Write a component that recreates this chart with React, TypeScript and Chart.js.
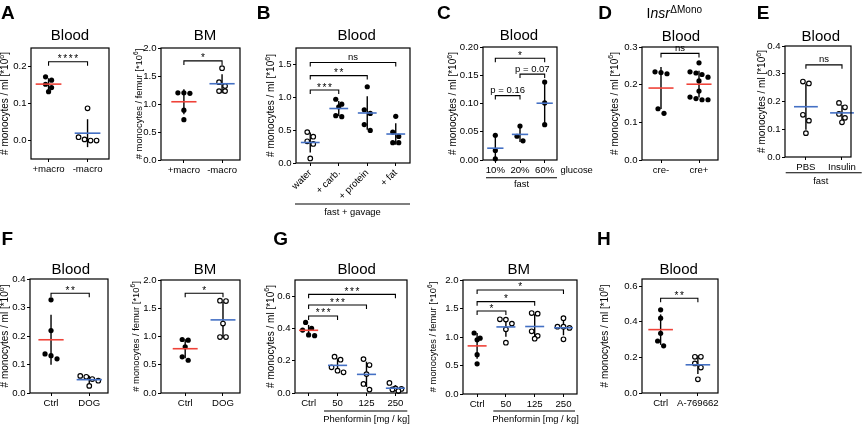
import React, { useEffect, useRef } from "react";
import { Chart, registerables } from "chart.js";

Chart.register(...registerables);

// ---------------- data ----------------
const aBloodCats = ["+macro", "-macro"];
const aBloodPlusMacro = [0.172, 0.163, 0.152, 0.143, 0.132];
const aBloodMinusMacro = [0.087, 0.009, 0.003, 0.0, 0.0];
const aBloodTicks = [0, 0.1, 0.2];

const aBmCats = ["+macro", "-macro"];
const aBmPlusMacro = [1.2, 1.2, 1.19, 0.89, 0.72];
const aBmMinusMacro = [1.64, 1.39, 1.32, 1.23, 1.23];
const bmTicks = [0, 0.5, 1.0, 1.5, 2.0];

const bCats = ["water", "+ carb.", "+ protein", "+ fat"];
const bWater = [0.47, 0.4, 0.33, 0.29, 0.07];
const bCarb = [0.97, 0.895, 0.855, 0.72, 0.705];
const bProtein = [1.16, 0.81, 0.755, 0.585, 0.495];
const bFat = [0.71, 0.47, 0.405, 0.31, 0.31];
const bTicks = [0, 0.5, 1.0, 1.5];

const cCats = ["10%", "20%", "60%"];
const c10 = [0.0437, 0.017, 0.002];
const c20 = [0.06, 0.042, 0.034];
const c60 = [0.138, 0.101, 0.0625];
const cTicks = [0, 0.05, 0.1, 0.15, 0.2];

const dCats = ["cre-", "cre+"];
const dCreNeg = [0.234, 0.232, 0.229, 0.136, 0.124];
const dCrePos = [0.258, 0.234, 0.231, 0.227, 0.22, 0.21, 0.183, 0.167, 0.163, 0.16, 0.16];
const dTicks = [0, 0.1, 0.2, 0.3];

const eCats = ["PBS", "Insulin"];
const ePbs = [0.272, 0.265, 0.152, 0.131, 0.086];
const eInsulin = [0.195, 0.179, 0.155, 0.141, 0.125];
const eTicks = [0, 0.1, 0.2, 0.3, 0.4];

const fCats = ["Ctrl", "DOG"];
const fBloodCtrl = [0.327, 0.219, 0.137, 0.131, 0.12];
const fBloodDog = [0.06, 0.057, 0.049, 0.043, 0.025];
const fBloodTicks = [0, 0.1, 0.2, 0.3, 0.4];
const fBmCtrl = [0.947, 0.935, 0.817, 0.64, 0.58];
const fBmDog = [1.633, 1.627, 1.23, 0.99, 0.99];

const gCats = ["Ctrl", "50", "125", "250"];
const gBloodCtrl = [0.437, 0.4, 0.39, 0.36, 0.355];
const gBlood50 = [0.225, 0.206, 0.159, 0.138, 0.128];
const gBlood125 = [0.21, 0.173, 0.117, 0.056, 0.021];
const gBlood250 = [0.062, 0.028, 0.025, 0.022, 0.012];
const gBloodTicks = [0, 0.2, 0.4, 0.6];
const gBmCtrl = [1.07, 0.98, 0.95, 0.69, 0.53];
const gBm50 = [1.31, 1.305, 1.235, 1.134, 0.9];
const gBm125 = [1.42, 1.41, 1.1, 1.02, 0.97];
const gBm250 = [1.33, 1.18, 1.18, 1.16, 0.96];

const hCats = ["Ctrl", "A-769662"];
const hCtrl = [0.467, 0.42, 0.335, 0.292, 0.265];
const hA769662 = [0.203, 0.203, 0.166, 0.143, 0.077];
const hTicks = [0, 0.2, 0.4, 0.6];

// significance annotations (group a, group b, bracket level, label)
const aBloodSig = [{ a: 0, b: 1, y: 0.213, text: "****" }];
const aBmSig = [{ a: 0, b: 1, y: 1.77, text: "*" }];
const bSig = [
  { a: 0, b: 1, y: 1.11, text: "***" },
  { a: 0, b: 2, y: 1.33, text: "**" },
  { a: 0, b: 3, y: 1.53, text: "ns" },
];
const cSig = [
  { a: 0, b: 1, y: 0.114, text: "p = 0.16" },
  { a: 1, b: 2, y: 0.152, text: "p = 0.07" },
  { a: 0, b: 2, y: 0.18, text: "*" },
];
const dSig = [{ a: 0, b: 1, y: 0.283, text: "ns" }];
const eSig = [{ a: 0, b: 1, y: 0.332, text: "ns" }];
const fBloodSig = [{ a: 0, b: 1, y: 0.35, text: "**" }];
const fBmSig = [{ a: 0, b: 1, y: 1.765, text: "*" }];
const gBloodSig = [
  { a: 0, b: 1, y: 0.477, text: "***" },
  { a: 0, b: 2, y: 0.545, text: "***" },
  { a: 0, b: 3, y: 0.611, text: "***" },
];
const gBmSig = [
  { a: 0, b: 1, y: 1.456, text: "*" },
  { a: 0, b: 2, y: 1.62, text: "*" },
  { a: 0, b: 3, y: 1.825, text: "*" },
];
const hSig = [{ a: 0, b: 1, y: 0.532, text: "**" }];

// ---------------- styling / layout ----------------
const FONT = "'Liberation Sans', Arial, Helvetica, sans-serif";
const RED = "#ef4238";
const BLUE = "#4470c4";
const W = 863;
const H = 425;
const Y_AXIS_W = 28;
const TICK_SIZE = 9.6;
const ML = "# monocytes / ml [*10";
const FEMUR = "# monocytes / femur [*10";

type Sig = { a: number; b: number; y: number; text: string };
type Panel = {
  L: number; T: number; R: number; B: number;
  yMin: number; yMax: number; yTicks: number[]; yDec: number;
  xMin: number; xMax: number; cats: string[]; rotate?: boolean;
  groups: number[][]; filled: boolean[]; meanColor: string[];
  title: string; titleX: number; titleY: number;
  yLabel: string; yLabelX: number; yLabelSize: number;
  sig: Sig[];
  letter?: { text: string; x: number; y: number };
  lines?: { x1: number; x2: number; y: number }[];
  texts?: { text: string; x: number; y: number; align: CanvasTextAlign }[];
  header?: boolean;
};

const PANELS: Panel[] = [
  {
    L: 31, T: 48, R: 109, B: 159, yMin: -0.05, yMax: 0.25, yTicks: aBloodTicks, yDec: 1,
    xMin: -0.45, xMax: 1.55, cats: aBloodCats, groups: [aBloodPlusMacro, aBloodMinusMacro],
    filled: [true, false], meanColor: [RED, BLUE], title: "Blood", titleX: 70, titleY: 40.3,
    yLabel: ML, yLabelX: 5.5, yLabelSize: 10, sig: aBloodSig, letter: { text: "A", x: 1, y: 18.5 },
  },
  {
    L: 161, T: 48, R: 240, B: 160, yMin: 0, yMax: 2, yTicks: bmTicks, yDec: 1,
    xMin: -0.6, xMax: 1.47, cats: aBmCats, groups: [aBmPlusMacro, aBmMinusMacro],
    filled: [true, false], meanColor: [RED, BLUE], title: "BM", titleX: 205, titleY: 40.3,
    yLabel: FEMUR, yLabelX: 139.7, yLabelSize: 9.4, sig: aBmSig,
  },
  {
    L: 296, T: 48, R: 410, B: 163, yMin: 0, yMax: 1.75, yTicks: bTicks, yDec: 1,
    xMin: -0.5, xMax: 3.5, cats: bCats, rotate: true, groups: [bWater, bCarb, bProtein, bFat],
    filled: [false, true, true, true], meanColor: [BLUE, BLUE, BLUE, BLUE],
    title: "Blood", titleX: 356.7, titleY: 40.3, yLabel: ML, yLabelX: 271.7, yLabelSize: 10,
    sig: bSig, letter: { text: "B", x: 256.7, y: 18.5 },
    lines: [{ x1: 295, x2: 410, y: 204 }],
    texts: [{ text: "fast + gavage", x: 352.5, y: 215, align: "center" }],
  },
  {
    L: 483, T: 47, R: 557, B: 160, yMin: 0, yMax: 0.2, yTicks: cTicks, yDec: 2,
    xMin: -0.5, xMax: 2.5, cats: cCats, groups: [c10, c20, c60],
    filled: [true, true, true], meanColor: [BLUE, BLUE, BLUE],
    title: "Blood", titleX: 519, titleY: 40.3, yLabel: ML, yLabelX: 453.3, yLabelSize: 10,
    sig: cSig, letter: { text: "C", x: 437, y: 18.5 },
    lines: [{ x1: 486, x2: 557, y: 177.7 }],
    texts: [
      { text: "glucose", x: 560.5, y: 173.3, align: "left" },
      { text: "fast", x: 521.5, y: 186.5, align: "center" },
    ],
  },
  {
    L: 642, T: 47, R: 718, B: 160, yMin: 0, yMax: 0.3, yTicks: dTicks, yDec: 1,
    xMin: -0.5, xMax: 1.5, cats: dCats, groups: [dCreNeg, dCrePos],
    filled: [true, true], meanColor: [RED, RED],
    title: "Blood", titleX: 681, titleY: 40.7, yLabel: ML, yLabelX: 615, yLabelSize: 10,
    sig: dSig, letter: { text: "D", x: 598.3, y: 18.5 }, header: true,
  },
  {
    L: 785, T: 46, R: 851, B: 157, yMin: 0, yMax: 0.4, yTicks: eTicks, yDec: 1,
    xMin: -0.58, xMax: 1.25, cats: eCats, groups: [ePbs, eInsulin],
    filled: [false, false], meanColor: [BLUE, BLUE],
    title: "Blood", titleX: 820.8, titleY: 40.7, yLabel: ML, yLabelX: 762.3, yLabelSize: 10,
    sig: eSig, letter: { text: "E", x: 756.7, y: 18.5 },
    lines: [{ x1: 785.7, x2: 861.7, y: 172.7 }],
    texts: [{ text: "fast", x: 820.7, y: 184, align: "center" }],
  },
  {
    L: 30, T: 279, R: 108, B: 393, yMin: 0, yMax: 0.4, yTicks: fBloodTicks, yDec: 1,
    xMin: -0.55, xMax: 1.49, cats: fCats, groups: [fBloodCtrl, fBloodDog],
    filled: [true, false], meanColor: [RED, BLUE],
    title: "Blood", titleX: 70.8, titleY: 273.5, yLabel: ML, yLabelX: 5.5, yLabelSize: 10,
    sig: fBloodSig, letter: { text: "F", x: 1.5, y: 245 },
  },
  {
    L: 161, T: 280, R: 240, B: 393, yMin: 0, yMax: 2, yTicks: bmTicks, yDec: 1,
    xMin: -0.64, xMax: 1.45, cats: fCats, groups: [fBmCtrl, fBmDog],
    filled: [true, false], meanColor: [RED, BLUE],
    title: "BM", titleX: 205, titleY: 273.5, yLabel: FEMUR, yLabelX: 136, yLabelSize: 9.4,
    sig: fBmSig,
  },
  {
    L: 295, T: 280, R: 407, B: 393, yMin: 0, yMax: 0.7, yTicks: gBloodTicks, yDec: 1,
    xMin: -0.47, xMax: 3.4, cats: gCats, groups: [gBloodCtrl, gBlood50, gBlood125, gBlood250],
    filled: [true, false, false, false], meanColor: [RED, BLUE, BLUE, BLUE],
    title: "Blood", titleX: 356.7, titleY: 273.5, yLabel: ML, yLabelX: 270.8, yLabelSize: 10,
    sig: gBloodSig, letter: { text: "G", x: 273.3, y: 245 },
    lines: [{ x1: 324, x2: 407.3, y: 411 }],
    texts: [{ text: "Phenformin [mg / kg]", x: 366.5, y: 421.5, align: "center" }],
  },
  {
    L: 463, T: 280, R: 577, B: 394, yMin: 0, yMax: 2, yTicks: bmTicks, yDec: 1,
    xMin: -0.49, xMax: 3.47, cats: gCats, groups: [gBmCtrl, gBm50, gBm125, gBm250],
    filled: [true, false, false, false], meanColor: [RED, BLUE, BLUE, BLUE],
    title: "BM", titleX: 518.8, titleY: 273.5, yLabel: FEMUR, yLabelX: 433.7, yLabelSize: 9.4,
    sig: gBmSig,
    lines: [{ x1: 493.3, x2: 575, y: 411 }],
    texts: [{ text: "Phenformin [mg / kg]", x: 535.5, y: 421.5, align: "center" }],
  },
  {
    L: 642, T: 279, R: 718, B: 393, yMin: 0, yMax: 0.64, yTicks: hTicks, yDec: 1,
    xMin: -0.5, xMax: 1.54, cats: hCats, groups: [hCtrl, hA769662],
    filled: [true, false], meanColor: [RED, BLUE],
    title: "Blood", titleX: 678.7, titleY: 273.5, yLabel: ML, yLabelX: 605.7, yLabelSize: 10,
    sig: hSig, letter: { text: "H", x: 597, y: 245 },
  },
];

// ---------------- helpers ----------------
function mean(a: number[]) {
  return a.reduce((s, v) => s + v, 0) / a.length;
}
function sd(a: number[]) {
  const m = mean(a);
  return Math.sqrt(a.reduce((s, v) => s + (v - m) * (v - m), 0) / (a.length - 1));
}

// simple row-based swarm: points close in y are spread horizontally, centred on the group
function swarm(values: number[], pxPerY: number, pxPerX: number): number[] {
  const d = 6;
  const idx = values.map((_, i) => i).sort((a, b) => values[b] - values[a]);
  const offs = new Array(values.length).fill(0);
  let row: number[] = [];
  const flush = () => {
    row.forEach((k, j) => {
      offs[k] = ((j - (row.length - 1) / 2) * d) / pxPerX;
    });
  };
  for (const k of idx) {
    if (row.length && (values[row[0]] - values[k]) * pxPerY < d) row.push(k);
    else {
      if (row.length) flush();
      row = [k];
    }
  }
  if (row.length) flush();
  return offs;
}

function buildChart(canvas: HTMLCanvasElement, p: Panel, n: number) {
  const plotW = p.R - p.L;
  const plotH = p.B - p.T;
  const pxX = plotW / (p.xMax - p.xMin);
  const pxY = plotH / (p.yMax - p.yMin);
  const xAxisH = p.rotate ? 48 : 25;
  const datasets: any[] = [];
  p.groups.forEach((vals, i) => {
    const offs = swarm(vals, pxY, pxX);
    const m = mean(vals);
    const s = sd(vals);
    datasets.push({
      type: "line",
      data: [{ x: i, y: m - s }, { x: i, y: m + s }],
      borderColor: "#000", borderWidth: 1.4, pointRadius: 0, order: 2, clip: false,
    });
    datasets.push({
      type: "scatter",
      data: vals.map((v, k) => ({ x: i + offs[k], y: v })),
      pointRadius: p.filled[i] ? 2.6 : 2.3,
      pointBackgroundColor: p.filled[i] ? "#000" : "#fff",
      pointBorderColor: "#000",
      pointBorderWidth: p.filled[i] ? 0 : 1.15,
      order: 1, clip: false,
    });
    datasets.push({
      type: "line",
      data: [{ x: i - 0.33, y: m }, { x: i + 0.33, y: m }],
      borderColor: p.meanColor[i], borderWidth: 1.6, pointRadius: 0, order: 0, clip: false,
    });
  });

  const deco = {
    id: "deco" + n,
    afterDraw(chart: any) {
      const ctx: CanvasRenderingContext2D = chart.ctx;
      const xs = chart.scales.x;
      const ys = chart.scales.y;
      const ca = chart.chartArea;
      ctx.save();
      ctx.strokeStyle = "#000";
      ctx.fillStyle = "#000";
      ctx.lineWidth = 1.2;
      ctx.strokeRect(ca.left, ca.top, ca.right - ca.left, ca.bottom - ca.top);

      // brackets
      ctx.lineWidth = 1.1;
      for (const s of p.sig) {
        const x1 = xs.getPixelForValue(s.a);
        const x2 = xs.getPixelForValue(s.b);
        const y = ys.getPixelForValue(s.y);
        ctx.beginPath();
        ctx.moveTo(x1, y + 4);
        ctx.lineTo(x1, y);
        ctx.lineTo(x2, y);
        ctx.lineTo(x2, y + 4);
        ctx.stroke();
        const cx = (x1 + x2) / 2;
        if (/^\*+$/.test(s.text)) {
          ctx.font = `10px ${FONT}`;
          ctx.textAlign = "center";
          ctx.textBaseline = "alphabetic";
          const k = s.text.length;
          for (let j = 0; j < k; j++) {
            ctx.fillText("*", cx + (j - (k - 1) / 2) * 5.5, y + 0.5);
          }
        } else {
          ctx.font = `9.5px ${FONT}`;
          ctx.textAlign = "center";
          ctx.textBaseline = "alphabetic";
          ctx.fillText(s.text, cx, y - 2.6);
        }
      }

      // title
      ctx.font = `15px ${FONT}`;
      ctx.textAlign = "center";
      ctx.textBaseline = "alphabetic";
      ctx.fillText(p.title, p.titleX, p.titleY);

      // y label with superscript
      ctx.save();
      ctx.translate(p.yLabelX, (ca.top + ca.bottom) / 2);
      ctx.rotate(-Math.PI / 2);
      const fs = p.yLabelSize;
      const big = `${fs}px ${FONT}`;
      const small = `${fs * 0.7}px ${FONT}`;
      ctx.font = big;
      const w1 = ctx.measureText(p.yLabel).width;
      const w3 = ctx.measureText("]").width;
      ctx.font = small;
      const w2 = ctx.measureText("6").width;
      const start = -(w1 + w2 + w3) / 2;
      ctx.textAlign = "left";
      ctx.textBaseline = "middle";
      ctx.font = big;
      ctx.fillText(p.yLabel, start, 0);
      ctx.font = small;
      ctx.fillText("6", start + w1, -fs * 0.35);
      ctx.font = big;
      ctx.fillText("]", start + w1 + w2, 0);
      ctx.restore();

      // extra lines / texts
      ctx.lineWidth = 1.1;
      for (const l of p.lines || []) {
        ctx.beginPath();
        ctx.moveTo(l.x1, l.y);
        ctx.lineTo(l.x2, l.y);
        ctx.stroke();
      }
      ctx.font = `9.4px ${FONT}`;
      ctx.textBaseline = "alphabetic";
      for (const t of p.texts || []) {
        ctx.textAlign = t.align;
        ctx.fillText(t.text, t.x, t.y);
      }

      // panel letter
      if (p.letter) {
        ctx.font = `bold 19px ${FONT}`;
        ctx.textAlign = "left";
        ctx.fillText(p.letter.text, p.letter.x, p.letter.y);
      }
      if (p.header) {
        let x = 646.5;
        const by = 17.5;
        ctx.textAlign = "left";
        ctx.font = `14px ${FONT}`;
        ctx.fillText("I", x, by);
        x += ctx.measureText("I").width;
        ctx.font = `italic 14px ${FONT}`;
        ctx.fillText("nsr", x, by);
        x += ctx.measureText("nsr").width + 0.5;
        ctx.font = `10px ${FONT}`;
        ctx.fillText("\u0394Mono", x, by - 5);
      }
      ctx.restore();
    },
  };

  const tickFont = { family: FONT, size: TICK_SIZE };
  const grid = {
    display: true, drawOnChartArea: false, drawTicks: true, tickLength: 3,
    color: "#000", lineWidth: 1,
  };

  return new Chart(canvas, {
    type: "scatter",
    data: { datasets },
    plugins: [deco],
    options: {
      animation: false,
      responsive: false,
      devicePixelRatio: 1,
      events: [],
      layout: {
        padding: {
          left: p.L - Y_AXIS_W,
          top: p.T,
          right: W - p.R,
          bottom: H - p.B - xAxisH,
        },
      },
      plugins: { legend: { display: false }, title: { display: false }, tooltip: { enabled: false } },
      scales: {
        x: {
          type: "linear",
          min: p.xMin,
          max: p.xMax,
          afterBuildTicks: (s: any) => {
            s.ticks = p.cats.map((_, i) => ({ value: i }));
          },
          afterFit: (s: any) => {
            s.height = xAxisH;
          },
          ticks: {
            callback: (v: any) => p.cats[Math.round(Number(v))],
            autoSkip: false,
            maxRotation: p.rotate ? 45 : 0,
            minRotation: p.rotate ? 45 : 0,
            color: "#000",
            font: tickFont,
            padding: 1.2,
          },
          grid,
          border: { display: false },
        },
        y: {
          type: "linear",
          min: p.yMin,
          max: p.yMax,
          afterBuildTicks: (s: any) => {
            s.ticks = p.yTicks.map((v) => ({ value: v }));
          },
          afterFit: (s: any) => {
            s.width = Y_AXIS_W;
          },
          ticks: {
            callback: (v: any) => Number(v).toFixed(p.yDec),
            color: "#000",
            font: tickFont,
            padding: 1.5,
          },
          grid,
          border: { display: false },
        },
      },
    } as any,
  });
}

export default function App() {
  const refs = useRef<(HTMLCanvasElement | null)[]>([]);
  useEffect(() => {
    const charts = PANELS.map((p, i) => buildChart(refs.current[i] as HTMLCanvasElement, p, i));
    return () => charts.forEach((c) => c.destroy());
  }, []);
  return (
    <div
      style={{
        position: "absolute", left: 0, top: 0, width: W, height: H,
        background: "#fff", overflow: "hidden",
      }}
    >
      {PANELS.map((_, i) => (
        <canvas
          key={i}
          ref={(el) => {
            refs.current[i] = el;
          }}
          width={W}
          height={H}
          style={{ position: "absolute", left: 0, top: 0, width: W, height: H }}
        />
      ))}
    </div>
  );
}
